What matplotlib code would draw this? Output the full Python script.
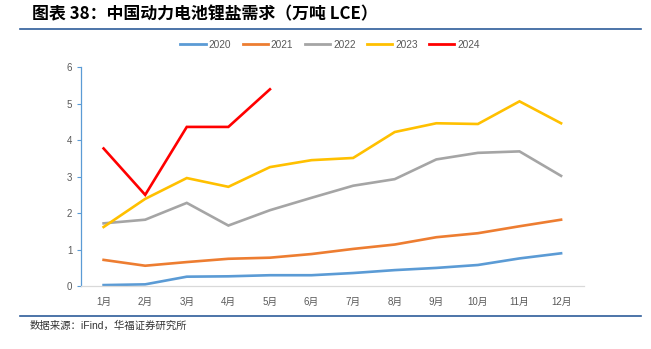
import matplotlib.pyplot as plt
from matplotlib.lines import Line2D

plt.rcParams['font.family'] = ['Liberation Sans', 'Noto Sans CJK SC']

months = ['1月', '2月', '3月', '4月', '5月', '6月', '7月', '8月', '9月', '10月', '11月', '12月']
y2020 = [0.03, 0.05, 0.26, 0.27, 0.30, 0.30, 0.36, 0.44, 0.50, 0.58, 0.76, 0.90]
y2021 = [0.72, 0.56, 0.66, 0.75, 0.78, 0.88, 1.02, 1.14, 1.34, 1.45, 1.64, 1.82]
y2022 = [1.72, 1.82, 2.28, 1.66, 2.08, 2.42, 2.75, 2.93, 3.47, 3.65, 3.69, 3.02]
y2023 = [1.62, 2.39, 2.96, 2.72, 3.26, 3.45, 3.51, 4.22, 4.46, 4.44, 5.06, 4.46]
y2024 = [3.77, 2.50, 4.36, 4.36, 5.39]

series = [('2020', y2020, '#5B9BD5'), ('2021', y2021, '#ED7D31'),
          ('2022', y2022, '#A5A5A5'), ('2023', y2023, '#FFC000'),
          ('2024', y2024, '#FF0000')]

fig = plt.figure(figsize=(6.51, 3.49), dpi=100)
ax = fig.add_axes([0.124, 0.18, 0.773, 0.628])

for name, vals, col in series:
    ax.plot(range(len(vals)), vals, color=col, lw=1.9, label=name,
            solid_joinstyle='miter')

ax.set_xlim(-0.55, 11.55)
ax.set_ylim(0, 6)
ax.set_yticks(range(7))
ax.set_xticks(range(12))
ax.set_xticklabels(months)
ax.tick_params(axis='x', length=0, labelsize=7, labelcolor='#595959', pad=8)
ax.tick_params(axis='y', length=3, width=0.8, color='#5B9BD5',
               labelsize=7, labelcolor='#595959', pad=3)
for s in ['top', 'right']:
    ax.spines[s].set_visible(False)
ax.spines['left'].set_color('#5B9BD5')
ax.spines['left'].set_linewidth(0.9)
ax.spines['bottom'].set_color('#D9D9D9')
ax.spines['bottom'].set_linewidth(0.9)

handles = [Line2D([], [], color=c, lw=2.0) for _, _, c in series]
fig.legend(handles, [n for n, _, _ in series], loc='center',
           bbox_to_anchor=(0.507, 0.871), ncol=5, frameon=False,
           fontsize=7.3, handlelength=2.5, columnspacing=1.1,
           handletextpad=0.3, labelcolor='#595959')

fig.text(0.049, 0.96, '图表 38：中国动力电池锂盐需求（万吨 LCE）',
         fontsize=12.2, fontweight='bold', va='center', ha='left',
         family=['Noto Sans CJK SC'])
fig.add_artist(Line2D([0.03, 0.985], [0.917, 0.917], color='#2E5C9A', lw=1.2))
fig.add_artist(Line2D([0.03, 0.985], [0.094, 0.094], color='#2E5C9A', lw=1.2))
fig.text(0.046, 0.068, '数据来源：iFind，华福证券研究所', fontsize=7.5,
         va='center', ha='left', color='#333333')

fig.savefig('out.png', dpi=100)
